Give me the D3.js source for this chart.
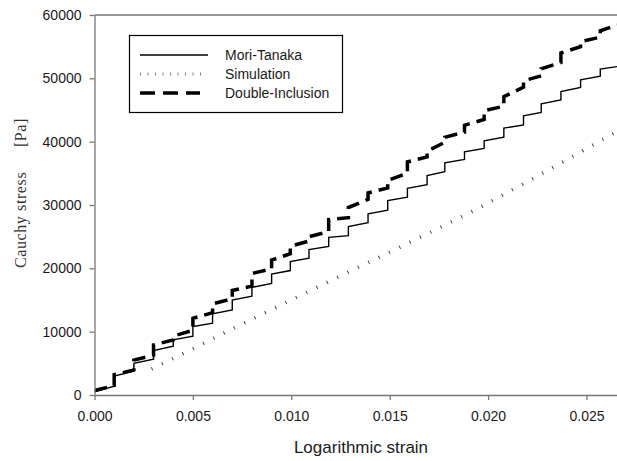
<!DOCTYPE html>
<html>
<head>
<meta charset="utf-8">
<script src="https://cdn.jsdelivr.net/npm/d3@7"></script>
<style>
  body { margin: 0; background: #fff; }
  svg { display: block; }
  .axis text { font-family: "Liberation Sans", Arial, sans-serif; font-size: 14px; fill: #1a1a1a; }
  .axis path, .axis line { stroke: #777; stroke-width: 1.3; }
</style>
</head>
<body>
<div id="chart"></div>
<script>
// strain where each load increment jumps (logarithmic strain)
var stepStrain = [0.0010, 0.0020, 0.0030, 0.0040, 0.0050, 0.0060, 0.0070, 0.0080, 0.0090, 0.00995,
                  0.0109, 0.0119, 0.0129, 0.0139, 0.0149, 0.0159, 0.0169, 0.0178, 0.0188, 0.0198,
                  0.0208, 0.0218, 0.0227, 0.0237, 0.0247, 0.0257];

// Mori-Tanaka: stress just before / after each jump
var mtStart = 500, mtEnd = 51850;
var mtLo = [1400, 3750, 5650, 7700, 9300, 11350, 13450, 15600, 17600, 19650,
            21600, 23450, 25150, 27200, 29200, 31250, 33200, 35250, 37200, 38950,
            40700, 42650, 44600, 46600, 48550, 50350];
var mtHi = [3000, 5000, 7000, 8700, 10800, 12800, 15000, 17000, 19100, 21050,
            22950, 24900, 26600, 28600, 30700, 32650, 34650, 36650, 38400, 40150,
            42130, 44080, 45970, 47910, 49760, 51450];

// Double-Inclusion
var diStart = 700, diEnd = 58400;
var diLo = [1500, 3950, 6300, 8700, 10200, 13000, 15200, 17200, 19900, 22300,
            24300, 25800, 28000, 30900, 32700, 35000, 37600, 39900, 41500, 43500,
            45600, 48600, 50400, 52500, 55000, 56500];
var diHi = [3200, 5500, 7900, 9300, 12100, 14400, 16500, 19200, 21300, 23500,
            25000, 27700, 29600, 31900, 33900, 36800, 38500, 40700, 42600, 44900,
            47100, 49600, 51500, 54000, 55800, 57500];

// Simulation
var simStrain = [0.0029, 0.0050, 0.0071, 0.0100, 0.0123, 0.0143, 0.0159, 0.0194, 0.0220, 0.0242, 0.0266];
var simStress = [4100, 7300, 10600, 15000, 18500, 21500, 23900, 29300, 33700, 37500, 41700];

var xTicks = [0, 0.005, 0.010, 0.015, 0.020, 0.025];
var yTicks = [0, 10000, 20000, 30000, 40000, 50000, 60000];
var legendNames = ["Mori-Tanaka", "Simulation", "Double-Inclusion"];

var W = 617, H = 461;
var margin = { top: 15, right: 0, bottom: 66, left: 94.5 };
var xMax = 0.02655;

var svg = d3.select("#chart").append("svg").attr("width", W).attr("height", H);

var x = d3.scaleLinear().domain([0, xMax]).range([margin.left, W - margin.right]);
var y = d3.scaleLinear().domain([0, 60000]).range([H - margin.bottom, margin.top]);

svg.append("clipPath").attr("id", "clip")
  .append("rect")
  .attr("x", margin.left).attr("y", margin.top - 5)
  .attr("width", W - margin.left).attr("height", H - margin.bottom - margin.top + 5);

// build staircase points from the step arrays
function stairs(start, lo, hi, end) {
  var pts = [[0, start]];
  for (var i = 0; i < stepStrain.length; i++) {
    pts.push([stepStrain[i], lo[i]]);
    pts.push([stepStrain[i], hi[i]]);
  }
  pts.push([xMax, end]);
  return pts;
}

var line = d3.line().x(function (d) { return x(d[0]); }).y(function (d) { return y(d[1]); });

var plot = svg.append("g").attr("clip-path", "url(#clip)");

// simulation (dotted)
plot.append("path")
  .datum(simStrain.map(function (s, i) { return [s, simStress[i]]; }))
  .attr("fill", "none")
  .attr("stroke", "#444")
  .attr("stroke-width", 3.5)
  .attr("stroke-dasharray", "1,10.5")
  .attr("d", line);

// Mori-Tanaka (solid)
plot.append("path")
  .datum(stairs(mtStart, mtLo, mtHi, mtEnd))
  .attr("fill", "none")
  .attr("stroke", "#000")
  .attr("stroke-width", 1.4)
  .attr("d", line);

// Double-Inclusion (dashed)
plot.append("path")
  .datum(stairs(diStart, diLo, diHi, diEnd))
  .attr("fill", "none")
  .attr("stroke", "#000")
  .attr("stroke-width", 3.5)
  .attr("stroke-dasharray", "13,7")
  .attr("d", line);

// axes
svg.append("g")
  .attr("class", "axis")
  .attr("transform", "translate(0," + (H - margin.bottom) + ")")
  .call(d3.axisBottom(x).tickValues(xTicks).tickFormat(d3.format(".3f"))
    .tickSize(5).tickSizeOuter(0).tickPadding(11));

svg.append("g")
  .attr("class", "axis")
  .attr("transform", "translate(" + margin.left + ",0)")
  .call(d3.axisLeft(y).tickValues(yTicks).tickFormat(d3.format("d"))
    .tickSize(5).tickSizeOuter(0).tickPadding(8));

// top frame line
svg.append("line")
  .attr("x1", margin.left).attr("x2", W)
  .attr("y1", margin.top).attr("y2", margin.top)
  .attr("stroke", "#777").attr("stroke-width", 1.3);

// axis titles
svg.append("text")
  .attr("x", 361).attr("y", 453)
  .attr("text-anchor", "middle")
  .style("font-family", "Liberation Sans, Arial, sans-serif")
  .style("font-size", "17px")
  .style("fill", "#1a1a1a")
  .text("Logarithmic strain");

svg.append("text")
  .attr("transform", "translate(26,268) rotate(-90)")
  .attr("text-anchor", "start")
  .style("font-family", "Liberation Serif, Times New Roman, serif")
  .style("font-size", "16px")
  .style("letter-spacing", "0.6px")
  .style("fill", "#333")
  .text("Cauchy stress");

svg.append("text")
  .attr("transform", "translate(26,118) rotate(-90)")
  .attr("text-anchor", "end")
  .style("font-family", "Liberation Serif, Times New Roman, serif")
  .style("font-size", "16px")
  .style("letter-spacing", "0.6px")
  .style("fill", "#333")
  .text("[Pa]");

// legend
var lg = svg.append("g");
lg.append("rect")
  .attr("x", 129.5).attr("y", 35.5).attr("width", 213).attr("height", 77)
  .attr("fill", "#fff").attr("stroke", "#000").attr("stroke-width", 1.2);

var legendStyle = [
  { w: 1.4, dash: null, color: "#000", x2: 208 },
  { w: 3, dash: "1,6.5", color: "#888", x2: 202 },
  { w: 3.5, dash: "15,8", color: "#000", x2: 200 }
];

legendNames.forEach(function (name, i) {
  var ly = 55 + i * 19;
  var s = legendStyle[i];
  lg.append("line")
    .attr("x1", 140).attr("x2", s.x2)
    .attr("y1", ly).attr("y2", ly)
    .attr("stroke", s.color).attr("stroke-width", s.w)
    .attr("stroke-dasharray", s.dash);
  lg.append("text")
    .attr("x", 225).attr("y", ly + 5)
    .style("font-family", "Liberation Sans, Arial, sans-serif")
    .style("font-size", "14px")
    .style("fill", "#1a1a1a")
    .text(name);
});
</script>
</body>
</html>
